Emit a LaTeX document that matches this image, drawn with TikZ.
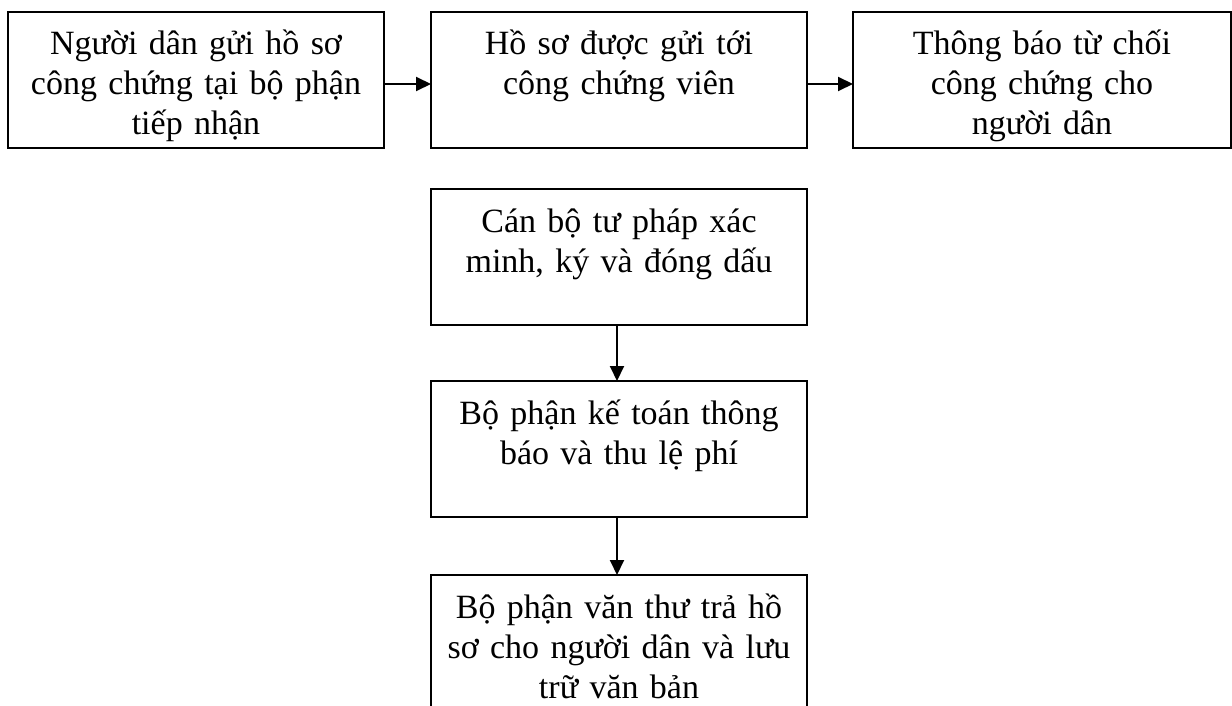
\documentclass[tikz,border=0pt]{standalone}
\usepackage{fontspec}
\setmainfont{Liberation Serif}
\usetikzlibrary{arrows.meta}
\begin{document}
\begin{tikzpicture}[x=1pt,y=1pt,
  box/.style={draw=black,line width=2pt,minimum width=376pt,minimum height=136pt,inner sep=0pt,outer sep=0pt},
  txt/.style={anchor=base,text width=370pt,align=center,inner sep=0pt,font=\fontsize{34}{40}\selectfont},
  arr/.style={line width=2pt,-{Triangle[length=15pt,width=14pt]}}]
\useasboundingbox (0,0) rectangle (1232,-706);
\clip (0,0) rectangle (1232,-706);
% top row
\node[box] (b1) at (196,-80.5) {};
\node[box] (b2) at (619,-80.5) {};
\node[box,minimum width=378pt] (b3) at (1042,-80.5) {};
\node[txt] (t1) at (196,-55) {Người dân gửi hồ sơ\\công chứng tại bộ phận\\tiếp nhận};
\node[txt] (t2) at (619,-55) {Hồ sơ được gửi tới\\công chứng viên};
\node[txt] (t3) at (1042,-55) {Thông báo từ chối\\công chứng cho\\người dân};
% column
\node[box] (b4) at (619,-257) {};
\node[box] (b5) at (619,-449) {};
\node[box] (b6) at (619,-643) {};
\node[txt] (t4) at (619,-232) {Cán bộ tư pháp xác\\minh, ký và đóng dấu};
\node[txt] (t5) at (619,-424) {Bộ phận kế toán thông\\báo và thu lệ phí};
\node[txt] (t6) at (619,-618) {Bộ phận văn thư trả hồ\\sơ cho người dân và lưu\\trữ văn bản};
% connectors
\draw[arr] ([yshift=-3.5pt]b1.east) -- ([yshift=-3.5pt]b2.west);
\draw[arr] ([yshift=-3.5pt]b2.east) -- ([yshift=-3.5pt]b3.west);
\draw[arr] ([xshift=-2pt]b4.south) -- ([xshift=-2pt]b5.north);
\draw[arr] ([xshift=-2pt]b5.south) -- ([xshift=-2pt]b6.north);
\end{tikzpicture}
\end{document}
